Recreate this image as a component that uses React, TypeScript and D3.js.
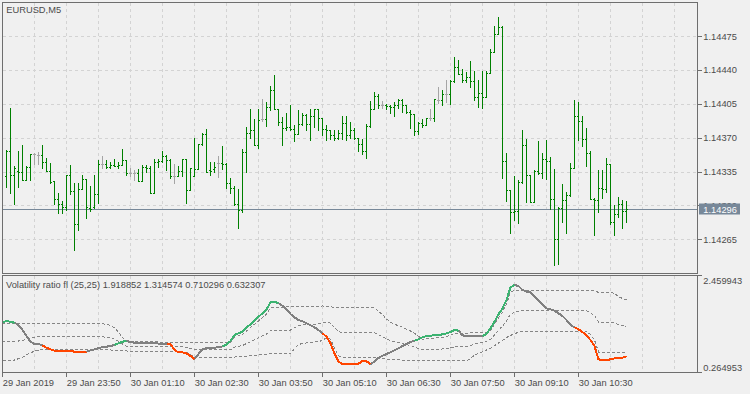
import React, { useEffect, useRef } from "react";
import * as d3 from "d3";

const symbolLabel = "EURUSD,M5";
const indicatorLabel = "Volatility ratio fl (25,25)";

// bar index 0 sits on the left frame; M5 bars
const chartStart = new Date(2019, 0, 29, 22, 30);
const barMinutes = 5;
const firstPriceBar = 1; // price arrays start at bar index 1

const opens = [
  1.1433, 1.14356, 1.14331, 1.14336, 1.14335, 1.14326, 1.1434, 1.14353, 1.14352, 1.14352,
  1.14345, 1.14336, 1.14325, 1.14307, 1.14302, 1.14298, 1.14331, 1.14315, 1.14281, 1.14317,
  1.14327, 1.14297, 1.14298, 1.14312, 1.14343, 1.14343, 1.1434, 1.14342, 1.14341, 1.14342,
  1.14347, 1.14334, 1.14334, 1.14334, 1.14325, 1.1434, 1.14339, 1.14313, 1.14345, 1.14346,
  1.14351, 1.14347, 1.1433, 1.1433, 1.14336, 1.14348, 1.14316, 1.1433, 1.14338, 1.14364,
  1.14374, 1.14337, 1.14338, 1.14344, 1.14344, 1.14343, 1.14323, 1.14318, 1.14302, 1.14295,
  1.14355, 1.14375, 1.14378, 1.14363, 1.14389, 1.14389, 1.14402, 1.14419, 1.144, 1.14386,
  1.1438, 1.14381, 1.14379, 1.14374, 1.14384, 1.14394, 1.14384, 1.14393, 1.144, 1.1439,
  1.14379, 1.14378, 1.14373, 1.1437, 1.14375, 1.14385, 1.14373, 1.14378, 1.1437, 1.14364,
  1.14356, 1.14382, 1.144, 1.14413, 1.14404, 1.14404, 1.14403, 1.14402, 1.14404, 1.14409,
  1.14404, 1.14397, 1.14395, 1.14377, 1.14385, 1.14383, 1.1439, 1.1439, 1.14409, 1.14409,
  1.14415, 1.14415, 1.14429, 1.14443, 1.14436, 1.1443, 1.14433, 1.14429, 1.14412, 1.14416,
  1.14412, 1.14437, 1.14459, 1.14477, 1.14485, 1.14346, 1.14316, 1.14293, 1.14294, 1.14324,
  1.14362, 1.14331, 1.14304, 1.14336, 1.14334, 1.14348, 1.14346, 1.14307, 1.14265, 1.14297,
  1.14306, 1.14311, 1.14339, 1.14393, 1.14387, 1.14369, 1.14354, 1.14307, 1.14306, 1.14318,
  1.14317, 1.14343, 1.14283, 1.14291, 1.14302, 1.14294,
];
const highs = [
  1.14357, 1.14401, 1.14341, 1.14356, 1.14363, 1.14341, 1.14353, 1.14354, 1.14355, 1.14362,
  1.14349, 1.14344, 1.14325, 1.14313, 1.14305, 1.14332, 1.14342, 1.14323, 1.14323, 1.14331,
  1.14327, 1.1432, 1.14332, 1.14347, 1.14351, 1.14347, 1.14345, 1.14348, 1.14345, 1.14358,
  1.14347, 1.14339, 1.14337, 1.14338, 1.14342, 1.14342, 1.14341, 1.14348, 1.14348, 1.14356,
  1.14352, 1.14348, 1.14343, 1.14341, 1.14348, 1.14348, 1.14339, 1.1437, 1.14364, 1.14375,
  1.14379, 1.14345, 1.14345, 1.14351, 1.14361, 1.14344, 1.14328, 1.1432, 1.14317, 1.14358,
  1.14381, 1.144, 1.14389, 1.144, 1.1441, 1.14407, 1.14424, 1.14435, 1.144, 1.14391,
  1.14396, 1.14404, 1.14383, 1.14399, 1.14396, 1.14395, 1.144, 1.144, 1.144, 1.1439,
  1.14383, 1.14378, 1.14378, 1.14378, 1.14392, 1.14392, 1.14386, 1.1438, 1.1437, 1.14369,
  1.14384, 1.14408, 1.14417, 1.14415, 1.14408, 1.14405, 1.14404, 1.14407, 1.1441, 1.1441,
  1.14404, 1.14399, 1.14395, 1.14386, 1.14389, 1.1439, 1.144, 1.1441, 1.14422, 1.14419,
  1.1443, 1.1443, 1.14454, 1.1445, 1.14441, 1.14438, 1.14449, 1.14439, 1.1443, 1.14439,
  1.14439, 1.14462, 1.14486, 1.14495, 1.14486, 1.14354, 1.14316, 1.1433, 1.14326, 1.14378,
  1.14369, 1.14331, 1.14337, 1.14367, 1.14354, 1.14368, 1.1435, 1.14338, 1.14298, 1.14322,
  1.14314, 1.14344, 1.14409, 1.14407, 1.14393, 1.1438, 1.14356, 1.14308, 1.14337, 1.14337,
  1.14349, 1.14343, 1.143, 1.14309, 1.14306, 1.14305,
];
const lows = [
  1.14319, 1.14313, 1.14302, 1.14319, 1.14326, 1.14326, 1.14326, 1.14343, 1.14343, 1.14339,
  1.14336, 1.14323, 1.14301, 1.14292, 1.14292, 1.14295, 1.14312, 1.14254, 1.14275, 1.14317,
  1.14287, 1.14294, 1.14297, 1.14303, 1.14339, 1.14339, 1.14339, 1.14341, 1.14339, 1.14342,
  1.14331, 1.1433, 1.14326, 1.14325, 1.14325, 1.14335, 1.14313, 1.14313, 1.1434, 1.14345,
  1.14337, 1.14328, 1.14323, 1.1433, 1.1433, 1.14303, 1.14316, 1.1433, 1.14338, 1.14362,
  1.14335, 1.14332, 1.14335, 1.14329, 1.14338, 1.14318, 1.14313, 1.143, 1.14277, 1.14293,
  1.14335, 1.1437, 1.14362, 1.14359, 1.14387, 1.14382, 1.14399, 1.144, 1.14383, 1.14362,
  1.14378, 1.14378, 1.14367, 1.14374, 1.14383, 1.14378, 1.14368, 1.14381, 1.14378, 1.14373,
  1.14368, 1.14369, 1.14368, 1.14369, 1.14369, 1.14368, 1.1437, 1.14369, 1.14356, 1.14353,
  1.14349, 1.14381, 1.144, 1.14401, 1.14401, 1.144, 1.14396, 1.14393, 1.14401, 1.14397,
  1.14396, 1.1438, 1.14373, 1.14374, 1.14381, 1.14383, 1.14388, 1.14387, 1.14406, 1.14404,
  1.14407, 1.14405, 1.14428, 1.14436, 1.14428, 1.14428, 1.14422, 1.14409, 1.14402, 1.14401,
  1.14412, 1.14437, 1.14459, 1.14477, 1.14328, 1.14305, 1.14272, 1.14285, 1.14282, 1.14323,
  1.14304, 1.14304, 1.14304, 1.14333, 1.14328, 1.14327, 1.14296, 1.14238, 1.14239, 1.14283,
  1.14271, 1.1431, 1.14339, 1.14368, 1.14361, 1.14341, 1.14307, 1.14269, 1.14293, 1.14308,
  1.14314, 1.14281, 1.14269, 1.14288, 1.14277, 1.14283,
];
const closes = [
  1.14356, 1.14331, 1.14339, 1.14335, 1.14326, 1.1434, 1.14353, 1.14353, 1.14352, 1.14345,
  1.14336, 1.14324, 1.14307, 1.14302, 1.14298, 1.14331, 1.14315, 1.14281, 1.14317, 1.14327,
  1.14298, 1.14296, 1.14312, 1.14343, 1.14343, 1.1434, 1.14342, 1.14341, 1.14342, 1.14347,
  1.14334, 1.14334, 1.14334, 1.14325, 1.1434, 1.14339, 1.14313, 1.14345, 1.14346, 1.14351,
  1.14347, 1.1433, 1.1433, 1.14336, 1.14348, 1.14316, 1.14339, 1.14338, 1.14364, 1.14374,
  1.14335, 1.14336, 1.1434, 1.14344, 1.14343, 1.14323, 1.14318, 1.14302, 1.14295, 1.14355,
  1.14375, 1.14378, 1.14363, 1.14388, 1.14389, 1.14402, 1.14419, 1.144, 1.14386, 1.1438,
  1.14381, 1.14379, 1.14374, 1.14384, 1.14394, 1.14384, 1.14393, 1.144, 1.1439, 1.14379,
  1.14378, 1.14373, 1.1437, 1.14375, 1.14385, 1.14373, 1.14378, 1.1437, 1.14364, 1.14356,
  1.14382, 1.144, 1.14413, 1.14404, 1.14404, 1.14403, 1.14402, 1.14404, 1.14409, 1.14404,
  1.14397, 1.14395, 1.14377, 1.14385, 1.14383, 1.1439, 1.1439, 1.1441, 1.14409, 1.14415,
  1.14415, 1.14429, 1.14443, 1.14436, 1.1443, 1.14433, 1.14429, 1.14412, 1.14416, 1.14412,
  1.14437, 1.14459, 1.14477, 1.14485, 1.14346, 1.14316, 1.14293, 1.14294, 1.14324, 1.14362,
  1.14331, 1.14304, 1.14336, 1.14334, 1.14348, 1.14346, 1.14307, 1.14265, 1.14297, 1.14306,
  1.14311, 1.14339, 1.14393, 1.14387, 1.14369, 1.14354, 1.14307, 1.14306, 1.14318, 1.14317,
  1.14343, 1.14283, 1.14291, 1.14302, 1.14294, 1.14296,
];

const priceTicks = [1.14265, 1.143, 1.14335, 1.1437, 1.14405, 1.1444, 1.14475];
const lastPrice = 1.14296;

// volatility ratio, one value per bar from index 0
const ratio = [
  1.4, 1.445, 1.415, 1.4, 1.346, 1.232, 1.095, 0.965, 0.912, 0.912,
  0.881, 0.828, 0.79, 0.76, 0.744, 0.744, 0.76, 0.752, 0.737, 0.729,
  0.729, 0.737, 0.767, 0.79, 0.821, 0.836, 0.851, 0.866, 0.889, 0.927,
  0.965, 0.981, 0.958, 0.942, 0.942, 0.942, 0.942, 0.942, 0.935, 0.92,
  0.904, 0.912, 0.912, 0.775, 0.721, 0.721, 0.699, 0.638, 0.569, 0.683,
  0.79, 0.821, 0.821, 0.828, 0.836, 0.859, 0.897, 0.981, 1.118, 1.156,
  1.194, 1.293, 1.362, 1.445, 1.537, 1.613, 1.705, 1.865, 1.88, 1.842,
  1.788, 1.705, 1.598, 1.522, 1.461, 1.43, 1.385, 1.339, 1.293, 1.232,
  1.156, 1.08, 0.927, 0.699, 0.508, 0.455, 0.455, 0.455, 0.455, 0.462,
  0.523, 0.516, 0.455, 0.508, 0.599, 0.645, 0.683, 0.721, 0.767, 0.813,
  0.866, 0.912, 0.958, 0.988, 1.019, 1.064, 1.095, 1.103, 1.11, 1.118,
  1.133, 1.156, 1.186, 1.232, 1.217, 1.11, 1.095, 1.103, 1.103, 1.103,
  1.095, 1.141, 1.27, 1.423, 1.59, 1.727, 1.918, 2.208, 2.261, 2.238,
  2.147, 2.109, 2.093, 1.994, 1.903, 1.811, 1.727, 1.705, 1.674, 1.613,
  1.552, 1.461, 1.346, 1.293, 1.247, 1.186, 1.103, 1.003, 0.866, 0.561,
  0.546, 0.546, 0.561, 0.584, 0.584, 0.599, 0.632307,
];
// bar ranges drawn in the "up" and "down" colours
const upRuns = [[0, 3], [29, 31], [56, 69], [104, 114], [121, 128]];
const downRuns = [[11, 21], [42, 48], [81, 92], [144, 156]];

// floating levels as [bar index, value]
const upperLevel = [
  [0, 1.385], [25, 1.377], [27, 1.339], [28, 1.278], [29, 1.179], [30, 1.064], [31, 0.965],
  [57, 0.942], [58, 1.064], [60, 1.133], [62, 1.285], [64, 1.438], [66, 1.598], [67, 1.735],
  [68, 1.75], [80, 1.781], [84, 1.743], [93, 1.743], [94, 1.659], [95, 1.583], [96, 1.484],
  [97, 1.415], [98, 1.362], [99, 1.331], [100, 1.293], [101, 1.247], [102, 1.209], [103, 1.156],
  [104, 1.087], [105, 1.019], [106, 1.034], [110, 1.064], [112, 1.11], [113, 1.156], [121, 1.171],
  [122, 1.217], [123, 1.362], [124, 1.514], [125, 1.644], [126, 1.819], [127, 2.086], [128, 2.139],
  [148, 2.124], [149, 2.093], [152, 2.093], [153, 2.071], [154, 1.987], [155, 1.956], [156, 1.918852],
];
const middleLevel = [
  [0, 0.966], [3, 0.965], [5, 0.996], [7, 1.049], [9, 1.079], [25, 1.076], [27, 1.057], [28, 1.024],
  [29, 0.972], [30, 0.911], [31, 0.859], [45, 0.845], [46, 0.836], [47, 0.809], [48, 0.778],
  [56, 0.775], [57, 0.777], [58, 0.84], [60, 0.878], [62, 0.965], [64, 1.051], [66, 1.141],
  [67, 1.213], [68, 1.225], [72, 1.23], [73, 1.284], [74, 1.331], [75, 1.348], [79, 1.372],
  [80, 1.389], [81, 1.414], [82, 1.391], [83, 1.287], [84, 1.194], [85, 1.172], [93, 1.172],
  [94, 1.125], [95, 1.081], [96, 1.027], [97, 0.989], [98, 0.96], [99, 0.942], [100, 0.92],
  [101, 0.895], [102, 0.874], [103, 0.846], [104, 0.809], [105, 0.775], [106, 0.783], [110, 0.798],
  [112, 0.821], [113, 0.844], [116, 0.847], [117, 0.871], [118, 0.913], [119, 0.933], [120, 0.953],
  [121, 0.973], [122, 1.015], [123, 1.118], [124, 1.225], [125, 1.32], [126, 1.438], [127, 1.598],
  [128, 1.64], [129, 1.662], [130, 1.673], [146, 1.668], [147, 1.625], [148, 1.564], [149, 1.411],
  [150, 1.404], [152, 1.403], [153, 1.392], [154, 1.35], [155, 1.334], [156, 1.314574],
];
const lowerLevel = [
  [0, 0.546], [3, 0.546], [5, 0.607], [7, 0.714], [9, 0.775], [27, 0.775], [31, 0.752], [45, 0.737],
  [46, 0.721], [47, 0.668], [48, 0.607], [56, 0.607], [60, 0.622], [62, 0.645], [66, 0.683],
  [68, 0.699], [72, 0.699], [73, 0.805], [74, 0.897], [75, 0.927], [79, 0.965], [80, 0.996],
  [81, 1.057], [82, 1.019], [83, 0.821], [84, 0.645], [85, 0.6], [93, 0.6], [96, 0.569],
  [100, 0.546], [104, 0.531], [116, 0.531], [117, 0.577], [118, 0.66], [119, 0.699], [120, 0.737],
  [121, 0.775], [122, 0.813], [123, 0.874], [124, 0.935], [125, 0.996], [126, 1.057], [127, 1.11],
  [128, 1.141], [129, 1.186], [130, 1.209], [146, 1.209], [147, 1.125], [148, 1.003], [149, 0.729],
  [150, 0.714], [156, 0.710296],
];
const ratioScaleRange = [0.264953, 2.459943];

export default function App() {
  const ref = useRef<SVGSVGElement | null>(null);

  useEffect(() => {
    document.body.style.margin = "0";
    const width = 750;
    const height = 394;
    const left = 2.5;
    const right = 697.5;
    const mainTop = 2.5;
    const mainBottom = 273.5;
    const subTop = 275.5;
    const subBottom = 372.5;
    const font = "'Liberation Sans', Arial, sans-serif";
    const fontSize = "9.3px";
    const ink = "#4b4b4b";
    const frame = "#6e6e6e";

    const svg = d3.select(ref.current);
    svg.selectAll("*").remove();

    svg.append("rect").attr("width", width).attr("height", height).attr("fill", "#f0f0f0");

    const x = d3.scaleLinear().domain([0, (right - left) / 4]).range([left, right]);
    const y = d3
      .scaleLinear()
      .domain([priceTicks[0], priceTicks[priceTicks.length - 1]])
      .range([239.3, 36.2]);
    const yr = d3.scaleLinear().domain(ratioScaleRange).range([372.3, 276.3]);
    const rowY = (v: number) => Math.round(v) + 0.5;

    const defs = svg.append("defs");
    defs
      .append("clipPath")
      .attr("id", "clip-main")
      .append("rect")
      .attr("x", left)
      .attr("y", mainTop)
      .attr("width", right - left)
      .attr("height", mainBottom - mainTop);
    defs
      .append("clipPath")
      .attr("id", "clip-sub")
      .append("rect")
      .attr("x", left)
      .attr("y", subTop)
      .attr("width", right - left)
      .attr("height", subBottom - subTop);

    // grid
    const grid = svg
      .append("g")
      .attr("stroke", "#d3d3d3")
      .attr("stroke-dasharray", "3,3")
      .attr("shape-rendering", "crispEdges");
    const gridBars = d3.range(8, x.domain()[1], 8);
    [
      [mainTop, mainBottom],
      [subTop, subBottom],
    ].forEach(([t, b], j) => {
      grid
        .selectAll(`line.gv${j}`)
        .data(gridBars)
        .join("line")
        .attr("class", `gv${j}`)
        .attr("x1", (d) => x(d))
        .attr("x2", (d) => x(d))
        .attr("y1", t)
        .attr("y2", b);
    });
    grid
      .selectAll("line.gh")
      .data(priceTicks)
      .join("line")
      .attr("class", "gh")
      .attr("x1", left)
      .attr("x2", right)
      .attr("y1", (d) => rowY(y(d)))
      .attr("y2", (d) => rowY(y(d)));

    // current price line
    svg
      .append("line")
      .attr("x1", left)
      .attr("x2", right)
      .attr("y1", rowY(y(lastPrice)))
      .attr("y2", rowY(y(lastPrice)))
      .attr("stroke", "#778899")
      .attr("shape-rendering", "crispEdges");

    // OHLC bars: 1px stem, 1px open tick left, 1px close tick right
    const bars = svg
      .append("g")
      .attr("clip-path", "url(#clip-main)")
      .attr("shape-rendering", "crispEdges");
    const bar = bars
      .selectAll("g")
      .data(d3.range(opens.length))
      .join("g")
      .attr("fill", (i) => (opens[i] === closes[i] ? "#a5a5a5" : "#008000"));
    const col = (i: number) => Math.floor(x(i + firstPriceBar));
    bar
      .append("rect")
      .attr("x", (i) => col(i))
      .attr("y", (i) => Math.round(y(highs[i])))
      .attr("width", 1)
      .attr("height", (i) => Math.max(1, Math.round(y(lows[i])) - Math.round(y(highs[i])) + 1));
    bar
      .append("rect")
      .attr("x", (i) => col(i) - 1)
      .attr("y", (i) => Math.round(y(opens[i])))
      .attr("width", 1)
      .attr("height", 1);
    bar
      .append("rect")
      .attr("x", (i) => col(i) + 1)
      .attr("y", (i) => Math.round(y(closes[i])))
      .attr("width", 1)
      .attr("height", 1);

    // indicator
    const sub = svg
      .append("g")
      .attr("clip-path", "url(#clip-sub)")
      .attr("shape-rendering", "crispEdges");
    const levelLine = d3
      .line<number[]>()
      .x((d) => x(d[0]))
      .y((d) => yr(d[1]));
    [upperLevel, middleLevel, lowerLevel].forEach((lv) => {
      sub
        .append("path")
        .attr("d", levelLine(lv))
        .attr("fill", "none")
        .attr("stroke", "#858585")
        .attr("stroke-width", 1)
        .attr("stroke-dasharray", "3,2");
    });
    const points = ratio.map((v, i) => [i, v]);
    const drawRatio = (pts: number[][], color: string) =>
      sub
        .append("path")
        .attr("d", levelLine(pts))
        .attr("fill", "none")
        .attr("stroke", color)
        .attr("stroke-width", 2)
        .attr("stroke-linejoin", "round");
    drawRatio(points, "#808080");
    upRuns.forEach(([a, b]) => drawRatio(points.slice(Math.max(0, a - 1), b + 1), "#3cb371"));
    downRuns.forEach(([a, b]) => drawRatio(points.slice(Math.max(0, a - 1), b + 1), "#ff4500"));

    // frames
    [
      [mainTop, mainBottom],
      [subTop, subBottom],
    ].forEach(([t, b]) => {
      svg
        .append("rect")
        .attr("x", left)
        .attr("y", t)
        .attr("width", right - left)
        .attr("height", b - t)
        .attr("fill", "none")
        .attr("stroke", frame)
        .attr("shape-rendering", "crispEdges");
    });

    const text = (tx: number, ty: number, s: string, color = ink) =>
      svg
        .append("text")
        .attr("x", tx)
        .attr("y", ty)
        .attr("font-family", font)
        .attr("font-size", fontSize)
        .attr("fill", color)
        .text(s);

    text(6.3, 12.7, symbolLabel);
    const f6 = d3.format(".6f");
    text(
      6,
      288,
      `${indicatorLabel} ${f6(upperLevel[upperLevel.length - 1][1])} ${f6(
        middleLevel[middleLevel.length - 1][1]
      )} ${f6(lowerLevel[lowerLevel.length - 1][1])} ${f6(ratio[ratio.length - 1])}`
    );

    // price axis
    const axis = svg.append("g").attr("stroke", frame).attr("shape-rendering", "crispEdges");
    priceTicks.forEach((p) => {
      axis.append("line").attr("x1", right).attr("x2", right + 4).attr("y1", rowY(y(p))).attr("y2", rowY(y(p)));
      text(703.3, y(p) + 3.4, d3.format(".5f")(p));
    });
    const ly = rowY(y(lastPrice));
    svg
      .append("rect")
      .attr("x", 699)
      .attr("y", ly - 6)
      .attr("width", 41)
      .attr("height", 11)
      .attr("fill", "#778899");
    text(703.3, ly + 3.3, d3.format(".5f")(lastPrice), "#ffffff");

    // indicator scale
    axis.append("line").attr("x1", right).attr("x2", right + 4).attr("y1", subTop).attr("y2", subTop);
    axis.append("line").attr("x1", right).attr("x2", right + 4).attr("y1", subBottom).attr("y2", subBottom);
    text(703.3, 284, f6(ratioScaleRange[1]));
    text(703.3, 371, f6(ratioScaleRange[0]));

    // time axis
    const timeBars = d3.range(0, ratio.length, 16);
    const dateFmt = d3.timeFormat("%d %b %Y");
    const timeFmt = d3.timeFormat("%d %b %H:%M");
    timeBars.forEach((k) => {
      const t = d3.timeMinute.offset(chartStart, k * barMinutes);
      axis.append("line").attr("x1", x(k)).attr("x2", x(k)).attr("y1", subBottom).attr("y2", subBottom + 4);
      text(x(k) + 0.3, 385.5, k === 0 ? dateFmt(t) : timeFmt(t));
    });
  }, []);

  return <svg ref={ref} width={750} height={394} style={{ display: "block" }} />;
}
